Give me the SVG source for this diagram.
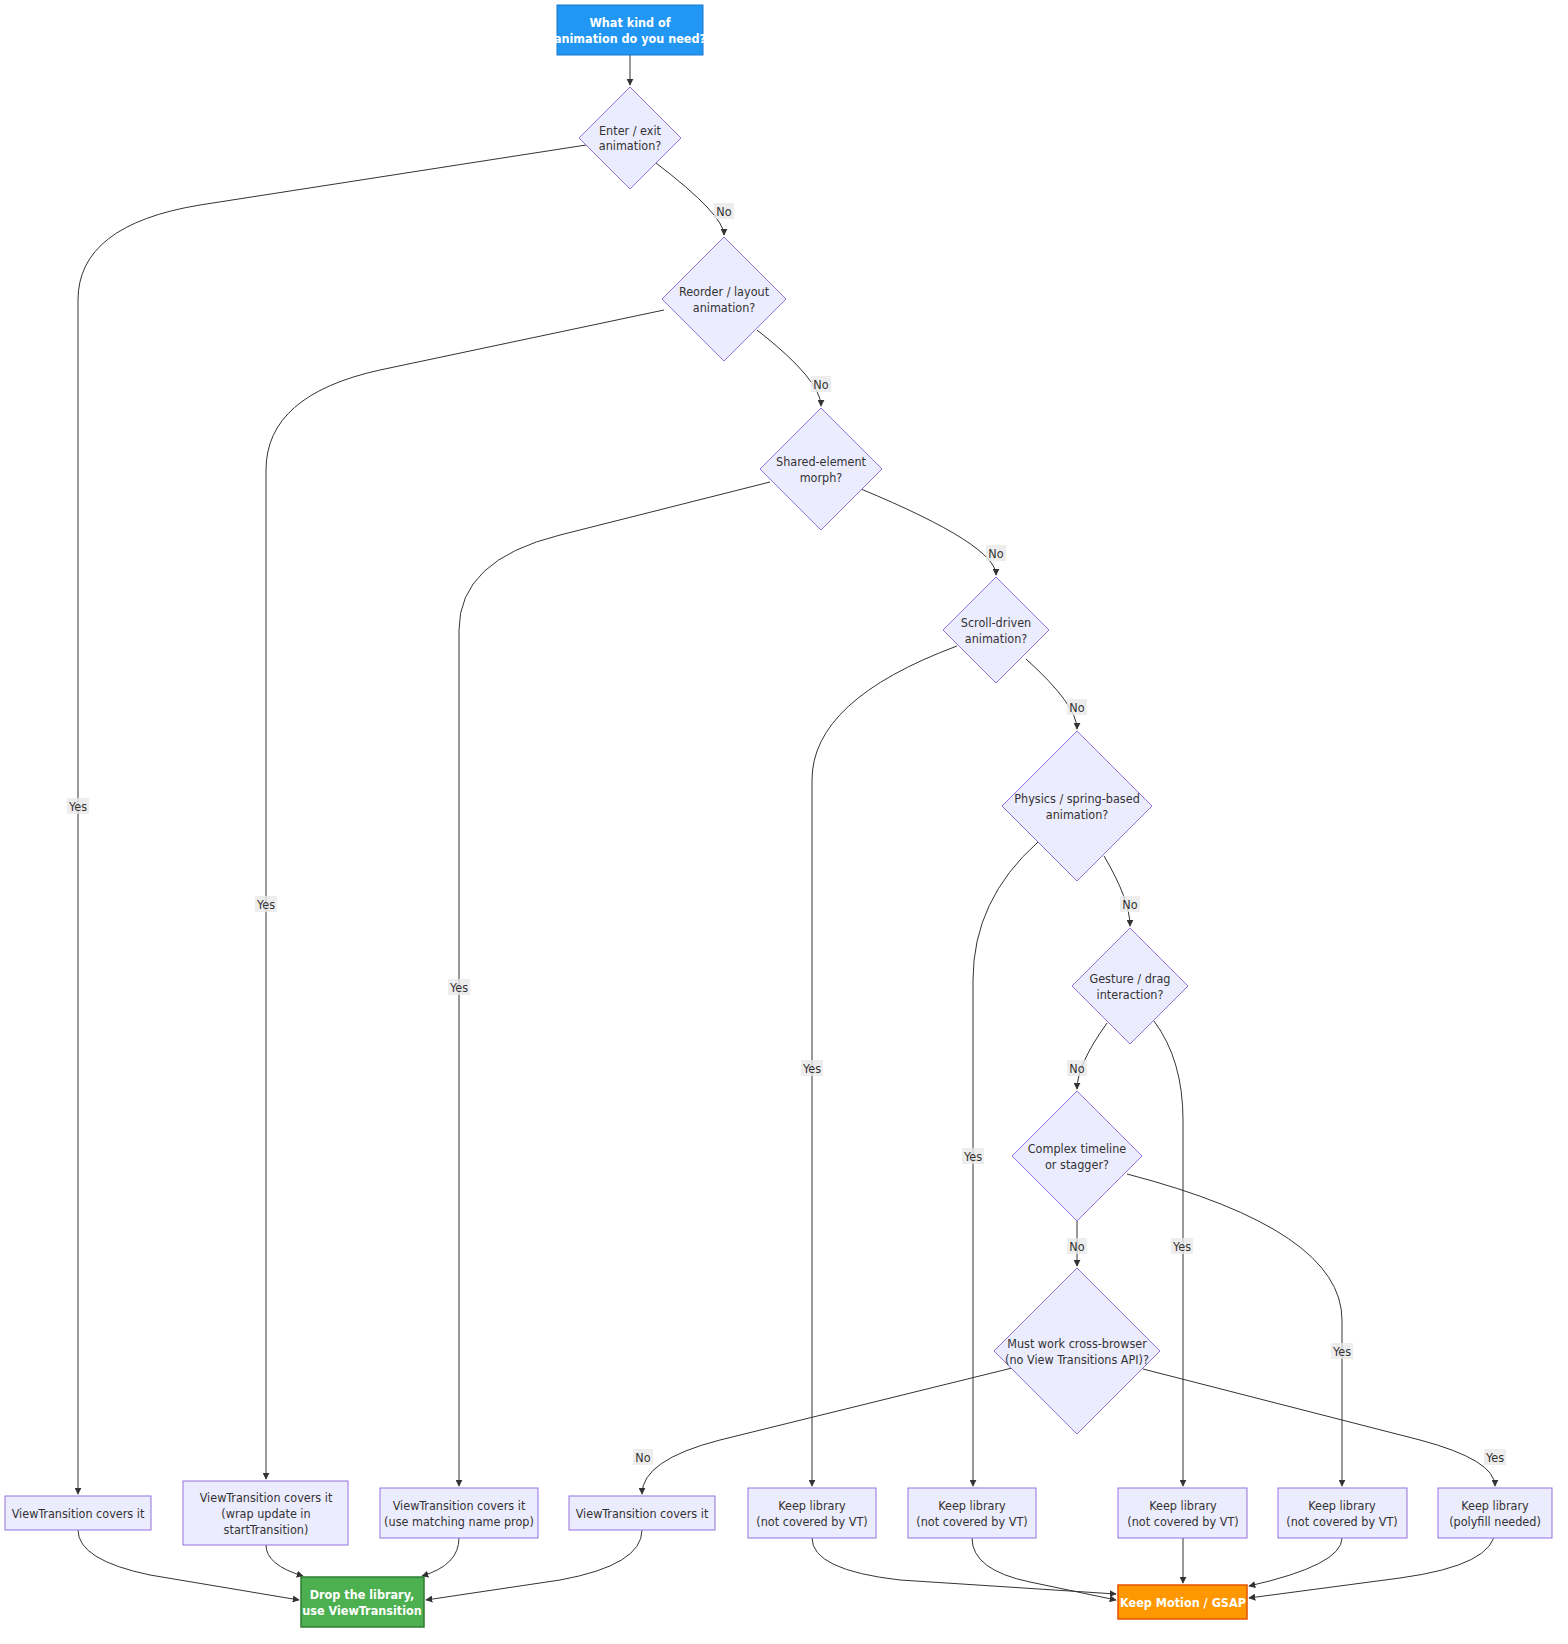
<svg xmlns="http://www.w3.org/2000/svg" width="1568" height="1644" viewBox="0 0 1568 1644">
<style>
text{font-family:"Trebuchet MS","DejaVu Sans Condensed","Liberation Sans",sans-serif;font-size:12.5px;fill:#333;text-anchor:middle;dominant-baseline:central}
.n{fill:#ECECFF;stroke:#9370DB;stroke-width:1}
.w{fill:#fff;font-weight:bold}
.e{fill:none;stroke:#333;stroke-width:1;marker-end:url(#a)}
.lb{fill:#e8e8e8;opacity:.8}
</style>
<defs><marker id="a" viewBox="0 0 10 10" refX="9" refY="5" markerWidth="7" markerHeight="7" orient="auto"><path d="M0,0L10,5L0,10z" fill="#333"/></marker></defs>
<rect width="1568" height="1644" fill="#fff"/>
<g id="edges">
<path class="e" d="M630,55L630,85"/>
<path class="e" d="M586,145L200,205Q78,225 78,300L78,1494"/>
<path class="e" d="M656,163Q724,215 724,235"/>
<path class="e" d="M664,310L380,370Q266,395 266,470L266,1479"/>
<path class="e" d="M757,330Q821,380 821,406"/>
<path class="e" d="M770,482L560,535Q459,560 459,630L459,1486"/>
<path class="e" d="M861,489Q996,545 996,575"/>
<path class="e" d="M957,646Q812,700 812,780L812,1486"/>
<path class="e" d="M1026,659Q1077,705 1077,729"/>
<path class="e" d="M1038,842Q973,900 973,980L973,1486"/>
<path class="e" d="M1104,856Q1130,900 1130,926"/>
<path class="e" d="M1107,1023Q1077,1065 1077,1089"/>
<path class="e" d="M1154,1021Q1183,1060 1183,1120L1183,1486"/>
<path class="e" d="M1077,1221L1077,1266"/>
<path class="e" d="M1127,1174Q1342,1230 1342,1320L1342,1486"/>
<path class="e" d="M1012,1368L720,1440Q642,1460 642,1494"/>
<path class="e" d="M1143,1369L1420,1440Q1495,1460 1495,1486"/>
<path class="e" d="M78,1530Q78,1560 150,1575L299,1600"/>
<path class="e" d="M266,1545Q266,1565 303,1576"/>
<path class="e" d="M459,1538Q459,1565 422,1576"/>
<path class="e" d="M642,1530Q642,1565 560,1580L426,1600"/>
<path class="e" d="M812,1538Q812,1570 900,1580L1116,1594"/>
<path class="e" d="M972,1538Q972,1570 1030,1582L1116,1600"/>
<path class="e" d="M1183,1538L1183,1583"/>
<path class="e" d="M1342,1538Q1342,1565 1249,1586"/>
<path class="e" d="M1495,1530Q1495,1565 1400,1578L1249,1598"/>
<g id="labels">
<rect class="lb" x="714" y="203" width="20" height="16"/><text x="724" y="211">No</text>
<rect class="lb" x="67" y="798" width="22" height="16"/><text x="78" y="806">Yes</text>
<rect class="lb" x="811" y="376" width="20" height="16"/><text x="821" y="384">No</text>
<rect class="lb" x="255" y="896" width="22" height="16"/><text x="266" y="904">Yes</text>
<rect class="lb" x="986" y="545" width="20" height="16"/><text x="996" y="553">No</text>
<rect class="lb" x="448" y="979" width="22" height="16"/><text x="459" y="987">Yes</text>
<rect class="lb" x="1067" y="699" width="20" height="16"/><text x="1077" y="707">No</text>
<rect class="lb" x="801" y="1060" width="22" height="16"/><text x="812" y="1068">Yes</text>
<rect class="lb" x="1120" y="896" width="20" height="16"/><text x="1130" y="904">No</text>
<rect class="lb" x="962" y="1148" width="22" height="16"/><text x="973" y="1156">Yes</text>
<rect class="lb" x="1067" y="1060" width="20" height="16"/><text x="1077" y="1068">No</text>
<rect class="lb" x="1171" y="1238" width="22" height="16"/><text x="1182" y="1246">Yes</text>
<rect class="lb" x="1067" y="1238" width="20" height="16"/><text x="1077" y="1246">No</text>
<rect class="lb" x="1331" y="1343" width="22" height="16"/><text x="1342" y="1351">Yes</text>
<rect class="lb" x="633" y="1449" width="20" height="16"/><text x="643" y="1457">No</text>
<rect class="lb" x="1484" y="1449" width="22" height="16"/><text x="1495" y="1457">Yes</text>
</g>
</g>
<g id="start"><rect x="557" y="5" width="146" height="50" fill="#2196F3" stroke="#1976D2"/><text class="w" x="630" y="22">What kind of</text><text class="w" x="630" y="38">animation do you need?</text></g>
<g id="d1"><polygon class="n" points="630,87 681,138 630,189 579,138"/><text x="630" y="130">Enter / exit</text><text x="630" y="145">animation?</text></g>
<g id="d2"><polygon class="n" points="724,237 786,299 724,361 662,299"/><text x="724" y="291">Reorder / layout</text><text x="724" y="307">animation?</text></g>
<g id="d3"><polygon class="n" points="821,408 882,469 821,530 760,469"/><text x="821" y="461">Shared-element</text><text x="821" y="477">morph?</text></g>
<g id="d4"><polygon class="n" points="996,577 1049,630 996,683 943,630"/><text x="996" y="622">Scroll-driven</text><text x="996" y="638">animation?</text></g>
<g id="d5"><polygon class="n" points="1077,731 1152,806 1077,881 1002,806"/><text x="1077" y="798">Physics / spring-based</text><text x="1077" y="814">animation?</text></g>
<g id="d6"><polygon class="n" points="1130,928 1188,986 1130,1044 1072,986"/><text x="1130" y="978">Gesture / drag</text><text x="1130" y="994">interaction?</text></g>
<g id="d7"><polygon class="n" points="1077,1091 1142,1156 1077,1221 1012,1156"/><text x="1077" y="1148">Complex timeline</text><text x="1077" y="1164">or stagger?</text></g>
<g id="d8"><polygon class="n" points="1077,1268 1160,1351 1077,1434 994,1351"/><text x="1077" y="1343">Must work cross-browser</text><text x="1077" y="1359">(no View Transitions API)?</text></g>
<g id="bA"><rect class="n" x="5" y="1496" width="146" height="34"/><text x="78" y="1513">ViewTransition covers it</text></g>
<g id="bB"><rect class="n" x="183" y="1481" width="165" height="64"/><text x="266" y="1497">ViewTransition covers it</text><text x="266" y="1513">(wrap update in</text><text x="266" y="1529">startTransition)</text></g>
<g id="bC"><rect class="n" x="380" y="1488" width="158" height="50"/><text x="459" y="1505">ViewTransition covers it</text><text x="459" y="1521">(use matching name prop)</text></g>
<g id="bD"><rect class="n" x="569" y="1496" width="146" height="34"/><text x="642" y="1513">ViewTransition covers it</text></g>
<g id="bE"><rect class="n" x="748" y="1488" width="128" height="50"/><text x="812" y="1505">Keep library</text><text x="812" y="1521">(not covered by VT)</text></g>
<g id="bF"><rect class="n" x="908" y="1488" width="128" height="50"/><text x="972" y="1505">Keep library</text><text x="972" y="1521">(not covered by VT)</text></g>
<g id="bG"><rect class="n" x="1118" y="1488" width="129" height="50"/><text x="1183" y="1505">Keep library</text><text x="1183" y="1521">(not covered by VT)</text></g>
<g id="bH"><rect class="n" x="1278" y="1488" width="129" height="50"/><text x="1342" y="1505">Keep library</text><text x="1342" y="1521">(not covered by VT)</text></g>
<g id="bI"><rect class="n" x="1438" y="1488" width="114" height="50"/><text x="1495" y="1505">Keep library</text><text x="1495" y="1521">(polyfill needed)</text></g>
<g id="drop"><rect x="301" y="1577" width="123" height="50" fill="#4CAF50" stroke="#2E7D32" stroke-width="1.5"/><text class="w" x="362" y="1594">Drop the library,</text><text class="w" x="362" y="1610">use ViewTransition</text></g>
<g id="keep"><rect x="1118" y="1585" width="129" height="34" fill="#FF9800" stroke="#E65100" stroke-width="1.5"/><text class="w" x="1183" y="1602">Keep Motion / GSAP</text></g>
</svg>
